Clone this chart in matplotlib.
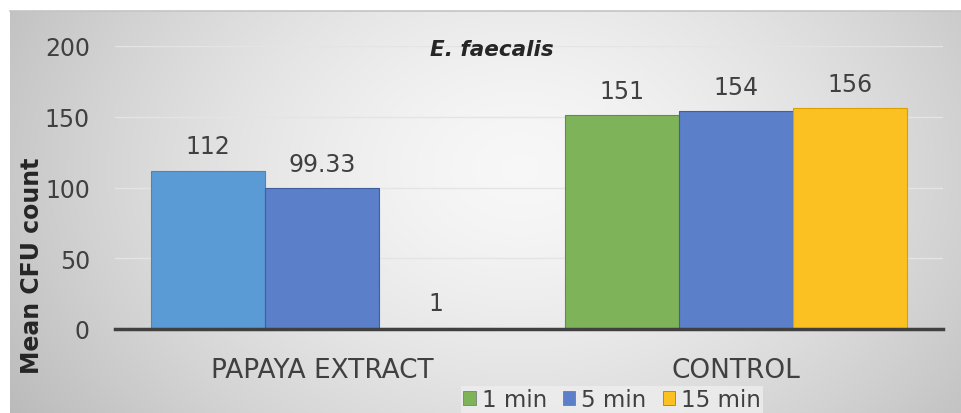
import numpy as np
import matplotlib.pyplot as plt
from matplotlib.patches import Rectangle

# data
categories = ['PAPAYA EXTRACT', 'CONTROL']
series = ['1 min', '5 min', '15 min']
vals_1min = [112, 151]
vals_5min = [99.33, 154]
vals_15min = [1, 156]
labels_1min = ['112', '151']
labels_5min = ['99.33', '154']
labels_15min = ['1', '156']
yticks = [0, 50, 100, 150, 200]

# colours per series, papaya 1 min bar is drawn light blue in the original
colors = {'1 min': ['#5b9bd5', '#7fb35a'],
          '5 min': ['#5b7fc8', '#5b7fc8'],
          '15 min': ['#fbc021', '#fbc021']}
legend_colors = ['#7fb35a', '#5b7fc8', '#fbc021']
edges = {'1 min': ['#4a85bd', '#5f9040'], '5 min': ['#3f5f9f', '#3f5f9f'],
         '15 min': ['#d9a000', '#d9a000']}

plt.rcParams['font.family'] = 'DejaVu Sans'
txt = '#404040'

fig = plt.figure(figsize=(9.62, 4.14), dpi=100)

# gradient background (grey edges, light centre)
bg = fig.add_axes([0, 0, 1, 1], zorder=0)
W, H = 962, 414
xx, yy = np.meshgrid(np.arange(W), np.arange(H))
r = np.sqrt(((xx - 520) / 540.0) ** 2 + ((yy - 170) / 400.0) ** 2)
shade = 0.97 - 0.2 * np.clip(r, 0, 1.3) ** 1.5
img = np.dstack([shade] * 3)
img[:12, :, :] = 1.0
img[:, :10, :] = 1.0
bg.imshow(img, extent=[0, W, H, 0], aspect='auto', interpolation='bilinear')
bg.plot([10, W], [12, 12], color='#c4c4c4', lw=1.2)
bg.set_xlim(0, W)
bg.set_ylim(H, 0)
bg.axis('off')

ax = fig.add_axes([115 / 962, 84 / 414, 828 / 962, 283 / 414], zorder=1)
ax.patch.set_alpha(0)

x = np.arange(len(categories))
w = 0.275
all_vals = [vals_1min, vals_5min, vals_15min]
all_labels = [labels_1min, labels_5min, labels_15min]
for i, (name, v, lab) in enumerate(zip(series, all_vals, all_labels)):
    bars = ax.bar(x + (i - 1) * w, v, w, color=colors[name],
                  edgecolor=edges[name], linewidth=0.8, zorder=3)
    ax.bar_label(bars, labels=lab, padding=9, fontsize=17, color=txt)

ax.set_xlim(-0.5, 1.5)
ax.set_ylim(0, 200)
ax.set_yticks(yticks)
ax.set_xticks(x)
ax.set_xticklabels(categories, fontsize=19)
ax.tick_params(axis='both', length=0, colors=txt)
ax.tick_params(axis='y', labelsize=17, pad=18)
ax.tick_params(axis='x', pad=20)
ax.yaxis.grid(True, color='#e4e4e4', lw=1, zorder=0)
for s in ['top', 'right', 'left']:
    ax.spines[s].set_visible(False)
ax.spines['bottom'].set_color('#404040')
ax.spines['bottom'].set_linewidth(2.5)
ax.spines['bottom'].set_zorder(4)

ax.set_ylabel('Mean CFU count', fontsize=17, fontweight='bold', color='#262626')
ax.yaxis.set_label_coords(-0.086, 0.226)

fig.text(492 / 962, 1 - 50 / 414, 'E. faecalis', fontsize=15.5, fontweight='bold',
         fontstyle='italic', color='#262626', ha='center', va='center', zorder=5)

handles = [Rectangle((0, 0), 1, 1, facecolor=c, edgecolor='#707070', lw=0.5) for c in legend_colors]
leg = fig.legend(handles, series, loc='center', bbox_to_anchor=(612 / 962, 1 - 401 / 414),
                 ncol=3, frameon=True, fontsize=16.5, handlelength=0.55, handleheight=0.55,
                 handletextpad=0.25, columnspacing=0.7, borderpad=0.1, labelcolor=txt)
leg.get_frame().set_facecolor('#eeeeee')
leg.get_frame().set_edgecolor('none')
leg.get_frame().set_boxstyle('square', pad=0)

fig.savefig('out.png', dpi=100)
